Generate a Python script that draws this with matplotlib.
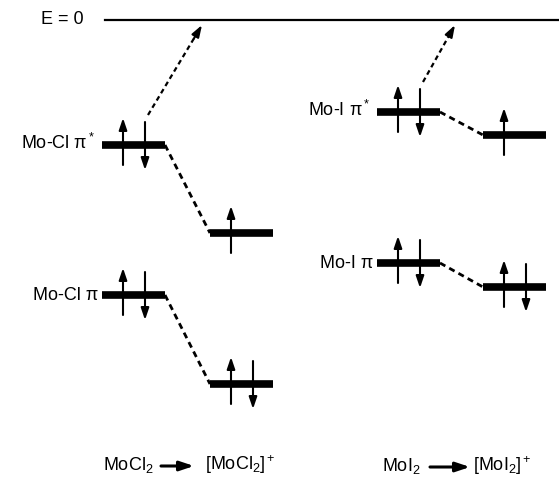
import matplotlib
matplotlib.use("Agg")
import matplotlib.pyplot as plt

plt.rcParams['font.family'] = ['Liberation Sans', 'DejaVu Sans']
plt.rcParams['mathtext.fontset'] = 'custom'
plt.rcParams['mathtext.rm'] = 'Liberation Sans'
plt.rcParams['mathtext.it'] = 'Liberation Sans'
plt.rcParams['mathtext.bf'] = 'Liberation Sans:bold'

# energies (arbitrary units, E = 0 at the top line)
systems = ["MoCl2", "MoI2"]
pistar_neutral = [-1.25, -0.92]
pistar_cation = [-2.13, -1.15]
pi_neutral = [-2.75, -2.43]
pi_cation = [-3.64, -2.67]
electrons_pistar = [2, 1]   # neutral -> cation
electrons_pi = [2, 2]
pistar_labels = ["Mo-Cl π$^*$", "Mo-I π$^*$"]
pi_labels = ["Mo-Cl π", "Mo-I π"]
left_names = ["MoCl$_2$", "MoI$_2$"]
right_names = ["[MoCl$_2$]$^+$", "[MoI$_2$]$^+$"]

fig = plt.figure(figsize=(5.59, 4.79), dpi=100)
ax = fig.add_axes([0, 0, 1, 1])
ax.set_xlim(0, 559)
ax.set_ylim(-4.59, 0.20)
ax.axis('off')

FS = 13
head = '-|>,head_length=0.5,head_width=0.17'

# E = 0 line
ax.plot([105, 559], [0, 0], color='black', lw=1.6)
ax.text(84, 0, "E = 0", ha='right', va='center', fontsize=FS)

col_x = [102, 377]     # left edge of neutral levels
shift = [108, 106]     # offset of cation levels
width = 63


def arrow(x0, y0, x1, y1, lw=1.5, ms=14, style=head):
    ax.annotate('', xy=(x1, y1), xytext=(x0, y0),
                arrowprops=dict(arrowstyle=style, lw=lw, color='black',
                                mutation_scale=ms, shrinkA=0, shrinkB=0))


def level(x0, e, n):
    ax.plot([x0, x0 + width], [e, e], color='black', lw=5.5,
            solid_capstyle='butt')
    ups = [x0 + 21, x0 + 43]
    if n >= 1:
        arrow(ups[0], e - 0.20, ups[0], e + 0.27)
    if n >= 2:
        arrow(ups[1], e + 0.23, ups[1], e - 0.25)


def link(x0, e0, x1, e1):
    ax.plot([x0, x1], [e0, e1], color='black', lw=2.0,
            dashes=(2.2, 1.6))


for i in range(len(systems)):
    x0 = col_x[i]
    x1 = x0 + shift[i]
    level(x0, pistar_neutral[i], 2)
    level(x1, pistar_cation[i], electrons_pistar[1])
    level(x0, pi_neutral[i], 2)
    level(x1, pi_cation[i], electrons_pi[1])
    link(x0 + width, pistar_neutral[i], x1, pistar_cation[i])
    link(x0 + width, pi_neutral[i], x1, pi_cation[i])

    # ionisation arrow from pi* to E = 0
    xs = x0 + 46
    ys = pistar_neutral[i] + 0.30
    xe = xs + (54 if i == 0 else 32)
    ye = -0.05
    fx = xs + (xe - xs) * 0.85
    fy = ys + (ye - ys) * 0.85
    ax.plot([xs, fx], [ys, fy], color='black', lw=1.6, dashes=(2.2, 1.6))
    arrow(fx, fy, xe, ye)

    ax.text(x0 - 7, pistar_neutral[i] + 0.02, pistar_labels[i],
            ha='right', va='center', fontsize=FS)
    ax.text(x0 - 4, pi_neutral[i], pi_labels[i],
            ha='right', va='center', fontsize=FS)

# bottom captions
cap_style = '-|>,head_length=0.6,head_width=0.2'
ax.text(103, -4.50, left_names[0], ha='left', va='baseline', fontsize=FS)
arrow(161, -4.46, 194, -4.46, lw=2.2, ms=14, style=cap_style)
ax.text(205, -4.50, right_names[0], ha='left', va='baseline', fontsize=FS)

ax.text(382, -4.51, left_names[1], ha='left', va='baseline', fontsize=FS)
arrow(430, -4.47, 470, -4.47, lw=2.2, ms=14, style=cap_style)
ax.text(473, -4.51, right_names[1], ha='left', va='baseline', fontsize=FS)

fig.savefig("out.png", dpi=100)
